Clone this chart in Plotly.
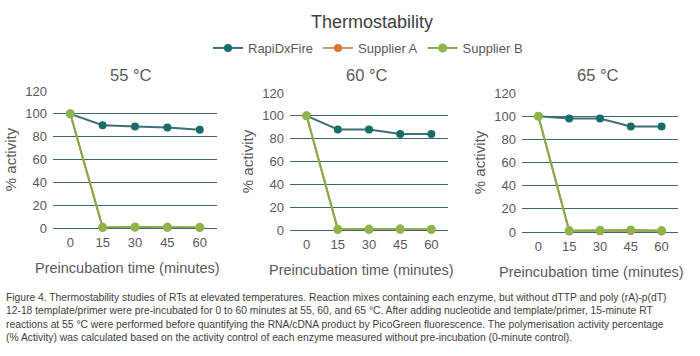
import plotly.graph_objects as go

times = [0, 15, 30, 45, 60]
panels = ["55 °C", "60 °C", "65 °C"]
rapidx = [[100, 90, 89, 88, 86], [100, 88, 88, 84, 84], [100, 98, 98, 91, 91]]
supplier_a = [[100, 0.3, 0.4, 0.2, 0.2], [100, 0.2, 0.3, 0.3, 0.2], [100, 0.5, 0.6, 0.8, 0.5]]
supplier_b = [[100, 0.7, 0.9, 0.8, 0.6], [100, 0.6, 0.8, 1.0, 0.7], [100, 1.2, 1.5, 1.8, 1.2]]
series_names = ["RapiDxFire", "Supplier A", "Supplier B"]
x_ticks = [0, 15, 30, 45, 60]
y_ticks = [0, 20, 40, 60, 80, 100, 120]
x_title = "Preincubation time (minutes)"
y_title = "% activity"

caption = ("Figure 4. Thermostability studies of RTs at elevated temperatures. Reaction mixes containing each enzyme, but without dTTP and poly (rA)-p(dT)<br>"
           "12-18 template/primer were pre-incubated for 0 to 60 minutes at 55, 60, and 65 °C. After adding nucleotide and template/primer, 15-minute RT<br>"
           "reactions at 55 °C were performed before quantifying the RNA/cDNA product by PicoGreen fluorescence. The polymerisation activity percentage<br>"
           "(% Activity) was calculated based on the activity control of each enzyme measured without pre-incubation (0-minute control).")

W, H = 700, 356
# pixel boxes of plot areas: (left, right, y_of_0, y_of_120)
boxes = [(53, 217, 228, 91), (290, 448, 230, 93), (522, 678, 232, 93)]
xtitle_centers = [127, 361, 591]
ptitle_centers = [131, 367, 598]

line_cols = ["#3f6e73", "#b6a46a", "#8fa64a"]
marker_cols = ["#166d6c", "#e2703a", "#8cb64c"]

fig = go.Figure()
grid_col = "#3f6b70"
txt = "#595959"
font_fam = "Liberation Sans, Arial, sans-serif"

layout_axes = {}
for i, (l, r, y0, y1) in enumerate(boxes):
    k = "" if i == 0 else str(i + 1)
    data = [rapidx[i], supplier_a[i], supplier_b[i]]
    for s in range(3):
        fig.add_trace(go.Scatter(
            x=times, y=data[s], name=series_names[s], mode="lines+markers",
            line=dict(color=line_cols[s], width=2),
            marker=dict(color=marker_cols[s], size=9 if s == 2 else 8),
            xaxis="x" + k, yaxis="y" + k, showlegend=(i == 0),
            cliponaxis=False, legendrank=s))
    layout_axes["xaxis" + k] = dict(
        domain=[l / W, r / W], range=[-8, 68], tickvals=x_ticks,
        showgrid=False, zeroline=False, showline=False, automargin=False,
        ticks="", tickfont=dict(size=13, color=txt), anchor="y" + k, ticklabelstandoff=5)
    layout_axes["yaxis" + k] = dict(
        domain=[1 - y0 / H, 1 - y1 / H], range=[0, 120], tickvals=y_ticks,
        showgrid=True, gridcolor=grid_col, gridwidth=1.3, zeroline=True,
        zerolinecolor=grid_col, zerolinewidth=1.3, showline=False, automargin=False,
        tickfont=dict(size=13, color=txt), anchor="x" + k, ticklabelstandoff=5,
        title=dict(text=y_title, font=dict(size=15, color=txt), standoff=5))

annotations = []
for i, (l, r, y0, y1) in enumerate(boxes):
    annotations.append(dict(text=panels[i], x=ptitle_centers[i] / W, y=1 - 75 / H, xref="paper", yref="paper",
                            showarrow=False, font=dict(size=16.5, color=txt, family=font_fam),
                            xanchor="center", yanchor="middle"))
    annotations.append(dict(text=x_title, x=xtitle_centers[i] / W, y=1 - (y0 + 40) / H, xref="paper", yref="paper",
                            showarrow=False, font=dict(size=14.5, color=txt, family=font_fam),
                            xanchor="center", yanchor="middle"))
annotations.append(dict(text=caption, x=4 / W, y=1 - 290 / H, xref="paper", yref="paper", xanchor="left",
                        yanchor="top", align="left", showarrow=False,
                        font=dict(size=10.3, color="#404040", family=font_fam)))

fig.update_layout(
    width=W, height=H, margin=dict(l=0, r=0, t=0, b=0, autoexpand=False),
    paper_bgcolor="white", plot_bgcolor="white",
    font=dict(family=font_fam, color=txt),
    title=dict(text="Thermostability", x=372 / W, xanchor="center", y=1 - 22 / H, yanchor="middle",
               font=dict(size=18, color="#404040"), automargin=False),
    legend=dict(orientation="h", x=368 / W, xanchor="center", y=1 - 48 / H, yanchor="middle",
                font=dict(size=13, color=txt), itemwidth=30, traceorder="normal"),
    annotations=annotations, showlegend=True,
    **layout_axes)

fig.write_html("out.html", config={"displayModeBar": False},
               post_script="document.body.style.margin='0';document.body.style.overflow='hidden';")
